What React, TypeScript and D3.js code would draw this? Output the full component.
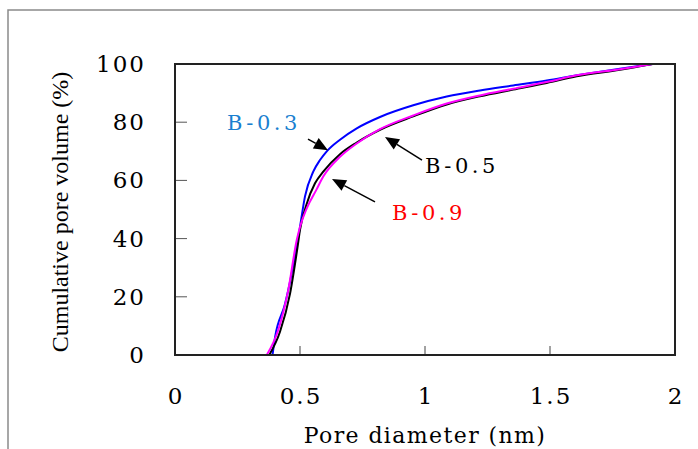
import React from "react";
import * as d3 from "d3";

const xTicks = [0, 0.5, 1, 1.5, 2];
const xTickLabels = ["0", "0.5", "1", "1.5", "2"];
const yTicks = [0, 20, 40, 60, 80, 100];
const yTickLabels = ["0", "20", "40", "60", "80", "100"];

const seriesNames = ["B-0.3", "B-0.5", "B-0.9"];

const b03X = [0.39, 0.40, 0.44, 0.48, 0.50, 0.52, 0.553, 0.58, 0.607, 0.66, 0.727, 0.82, 0.953, 1.087, 1.22, 1.353, 1.487, 1.607, 1.78, 1.91];
const b03Y = [0, 6, 17.5, 34, 44, 54.5, 63, 67, 70, 74, 77.9, 81.8, 85.8, 88.8, 90.9, 92.6, 94.3, 96.1, 98.4, 100];

const b05X = [0.377, 0.42, 0.46, 0.49, 0.5, 0.527, 0.56, 0.593, 0.66, 0.727, 0.82, 0.953, 1.087, 1.22, 1.353, 1.487, 1.607, 1.78, 1.91];
const b05Y = [0, 8, 21, 37, 43, 52, 59, 63, 69, 73.0, 77.4, 82.0, 86.1, 88.9, 91.2, 93.5, 95.8, 98.0, 100];

const b09X = [0.367, 0.413, 0.453, 0.487, 0.5, 0.527, 0.567, 0.593, 0.66, 0.727, 0.82, 0.953, 1.087, 1.22, 1.353, 1.487, 1.607, 1.78, 1.91];
const b09Y = [0, 8.6, 22.3, 39.5, 44, 50.4, 57, 61.3, 68.1, 72.7, 77.6, 82.3, 86.4, 89.2, 91.5, 93.8, 96.1, 98.2, 100];

// annotation label anchors (data units)
const labelX = [0.208, 1.0, 0.868];
const labelY = [77.3, 62.5, 46.4];
// arrows: from (tail) -> to (tip), data units
const arrowFromX = [0.532, 0.988, 0.8];
const arrowFromY = [74.2, 67.0, 52.6];
const arrowToX = [0.612, 0.84, 0.628];
const arrowToY = [70.4, 74.9, 60.5];

const lineColors = ["#0000ff", "#000000", "#ff00ff"];
const labelColors = ["#1a7fd0", "#000000", "#ff0000"];

export default function App() {
  const W = 698, H = 449;
  const x = d3.scaleLinear().domain([0, 2]).range([175, 675]);
  const y = d3.scaleLinear().domain([0, 100]).range([355, 64]);

  const series = [
    { xs: b03X, ys: b03Y },
    { xs: b05X, ys: b05Y },
    { xs: b09X, ys: b09Y },
  ];
  const line = d3
    .line<[number, number]>()
    .x((d) => x(d[0]))
    .y((d) => y(d[1]))
    .curve(d3.curveMonotoneX);

  const serif = "'DejaVu Serif', serif";

  const arrows = arrowFromX.map((_, i) => {
    const x1 = x(arrowFromX[i]), y1 = y(arrowFromY[i]);
    const x2 = x(arrowToX[i]), y2 = y(arrowToY[i]);
    const dx = x2 - x1, dy = y2 - y1;
    const len = Math.sqrt(dx * dx + dy * dy);
    const ux = dx / len, uy = dy / len;
    const hl = 14, hw = 6;
    const bx = x2 - ux * hl, by = y2 - uy * hl;
    const p1 = [bx - uy * hw, by + ux * hw];
    const p2 = [bx + uy * hw, by - ux * hw];
    return { x1, y1, bx, by, pts: `${x2},${y2} ${p1[0]},${p1[1]} ${p2[0]},${p2[1]}` };
  });

  return (
    <svg
      width={W}
      height={H}
      style={{ position: "absolute", left: 0, top: 0, background: "#fff" }}
    >
      <rect x={0} y={0} width={W} height={H} fill="#fff" />
      {/* outer frame */}
      <rect x={8} y={10} width={W} height={H} fill="none" stroke="#8a8a8a" strokeWidth={1.5} />

      {/* ticks */}
      {yTicks.slice(1, -1).map((t) => (
        <line key={"yt" + t} x1={x(0)} x2={x(0) + 12} y1={y(t)} y2={y(t)} stroke="#555" strokeWidth={1} />
      ))}
      {xTicks.slice(1, -1).map((t) => (
        <line key={"xt" + t} x1={x(t)} x2={x(t)} y1={y(0)} y2={y(0) - 9} stroke="#444" strokeWidth={1} />
      ))}

      {/* curves */}
      {series.map((s, i) => (
        <path
          key={"s" + i}
          d={line(s.xs.map((v, j) => [v, s.ys[j]] as [number, number])) || ""}
          fill="none"
          stroke={lineColors[i]}
          strokeWidth={2}
          strokeLinejoin="round"
        />
      ))}

      {/* plot frame */}
      <rect x={x(0)} y={y(100)} width={x(2) - x(0)} height={y(0) - y(100)} fill="none" stroke="#222" strokeWidth={2} />

      {/* tick labels */}
      {yTicks.map((t, i) => (
        <text key={"yl" + t} x={146} y={y(t) + 8} textAnchor="end" fontFamily={serif} fontSize={23} letterSpacing={2} fill="#000">
          {yTickLabels[i]}
        </text>
      ))}
      {xTicks.map((t, i) => (
        <text key={"xl" + t} x={x(t) + 1} y={404} textAnchor="middle" fontFamily={serif} fontSize={23} letterSpacing={2} fill="#000">
          {xTickLabels[i]}
        </text>
      ))}

      {/* axis titles */}
      <text x={425} y={443} textAnchor="middle" fontFamily={serif} fontSize={22} letterSpacing={1.4} fill="#000">
        Pore diameter (nm)
      </text>
      <text
        transform={`translate(68,212) rotate(-90)`}
        textAnchor="middle"
        fontFamily="'Liberation Serif', serif"
        fontSize={24}
        fill="#000"
      >
        Cumulative pore volume (%)
      </text>

      {/* annotations */}
      {arrows.map((a, i) => (
        <g key={"ar" + i}>
          <line x1={a.x1} y1={a.y1} x2={a.bx} y2={a.by} stroke="#000" strokeWidth={1.5} />
          <polygon points={a.pts} fill="#000" />
        </g>
      ))}
      {seriesNames.map((n, i) => (
        <text key={"lab" + i} x={x(labelX[i])} y={y(labelY[i])} fontFamily={serif} fontSize={21} letterSpacing={3.5} fill={labelColors[i]}>
          {n}
        </text>
      ))}
    </svg>
  );
}
